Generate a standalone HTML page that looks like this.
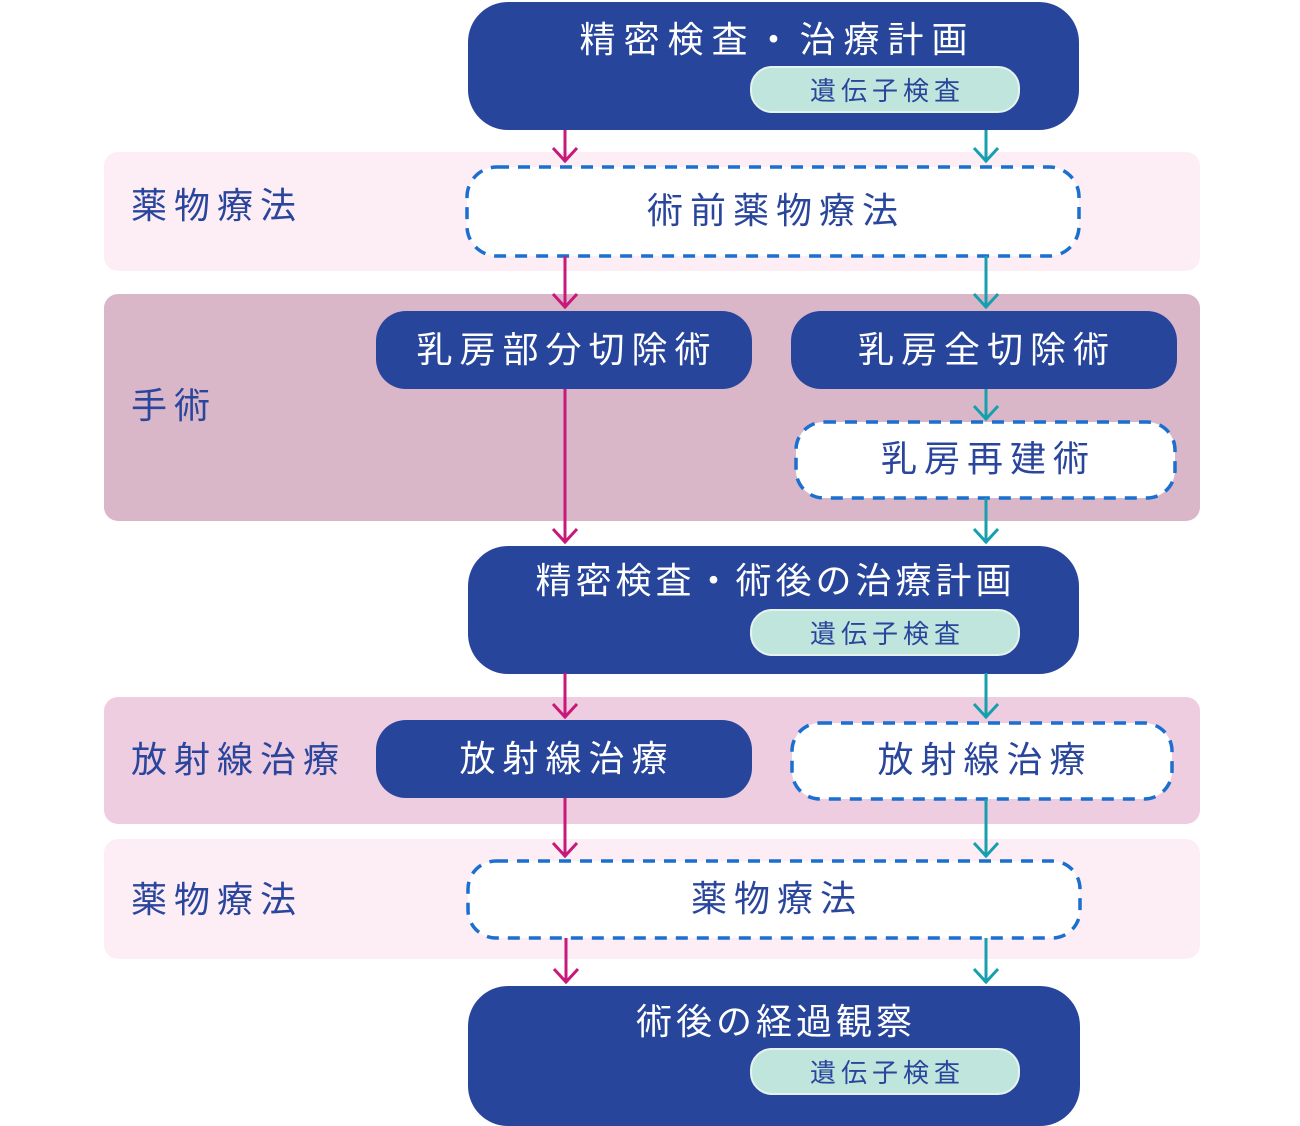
<!DOCTYPE html>
<html><head><meta charset="utf-8"><style>
body{margin:0;width:1300px;height:1115px;background:#fff;position:relative;overflow:hidden;font-family:"Liberation Sans","Noto Sans CJK JP",sans-serif}
.a{position:absolute;box-sizing:border-box}
.band{border-radius:14px}
.lab{position:absolute;color:#2a469c;font-size:36px;letter-spacing:7px;line-height:1}
.nv{background:#28459c;color:#fff;display:flex;align-items:center;justify-content:center;font-size:36px;letter-spacing:7px;padding-bottom:6px;padding-left:6px}
.pill{background:#c0e5dc;border:2px solid #e5f3ef;border-radius:22px;color:#2a469c;font-size:26px;letter-spacing:5px;display:flex;align-items:center;justify-content:center;padding-left:5px}
.ttl{position:absolute;left:0;right:0;text-align:center;color:#fff;font-size:36px;letter-spacing:8px;line-height:1}
.dt{display:flex;align-items:center;justify-content:center;color:#2a469c;font-size:36px;letter-spacing:7px;padding-bottom:8px;padding-left:6px}
</style></head><body>
<div class="a band" style="left:104px;top:152px;width:1096px;height:119px;background:#fdeef6"></div>
<div class="a band" style="left:104px;top:294px;width:1096px;height:227px;background:#d9b7c9"></div>
<div class="a band" style="left:104px;top:697px;width:1096px;height:127px;background:#efcde0"></div>
<div class="a band" style="left:104px;top:839px;width:1096px;height:120px;background:#fdeef6"></div>
<div class="lab" style="left:131px;top:188px">薬物療法</div>
<div class="lab" style="left:131px;top:388px">手術</div>
<div class="lab" style="left:131px;top:742px">放射線治療</div>
<div class="lab" style="left:131px;top:882px">薬物療法</div>

<div class="a" style="left:468px;top:2px;width:611px;height:128px;background:#28459c;border-radius:40px">
<div class="ttl" style="top:20px;padding-left:8px">精密検査・治療計画</div>
<div class="a pill" style="left:282px;top:64px;width:270px;height:47px">遺伝子検査</div></div>

<div class="a" style="left:468px;top:546px;width:611px;height:128px;background:#28459c;border-radius:40px">
<div class="ttl" style="top:17px;padding-left:4px;letter-spacing:4px">精密検査・術後の治療計画</div>
<div class="a pill" style="left:282px;top:63px;width:270px;height:47px">遺伝子検査</div></div>

<div class="a" style="left:468px;top:986px;width:612px;height:140px;background:#28459c;border-radius:40px">
<div class="ttl" style="top:18px;padding-left:4px;letter-spacing:4px">術後の経過観察</div>
<div class="a pill" style="left:282px;top:62px;width:270px;height:47px">遺伝子検査</div></div>

<div class="a nv" style="left:376px;top:311px;width:376px;height:78px;border-radius:30px">乳房部分切除術</div>
<div class="a nv" style="left:791px;top:311px;width:386px;height:78px;border-radius:30px">乳房全切除術</div>
<div class="a nv" style="left:376px;top:720px;width:376px;height:78px;border-radius:30px">放射線治療</div>

<svg class="a" style="left:0;top:0" width="1300" height="1115">
<g fill="#fff" stroke="#1a6fcf" stroke-width="3.5" stroke-dasharray="12 9">
<rect x="467" y="167" width="612" height="89" rx="30"/>
<rect x="796" y="422" width="379" height="76" rx="28"/>
<rect x="792" y="723" width="380" height="76" rx="28"/>
<rect x="468" y="861" width="612" height="77" rx="28"/>
</g>
<g fill="none" stroke-width="3">
<g stroke="#c8187a">
<path d="M565 130V162M553 148L565 161L577 148"/>
<path d="M565 256V308M553 294L565 307L577 294"/>
<path d="M565 389V543M553 529L565 542L577 529"/>
<path d="M565 673V718M553 704L565 717L577 704"/>
<path d="M565 798V857M553 843L565 856L577 843"/>
<path d="M566 938V983M554 969L566 982L578 969"/>
</g>
<g stroke="#16a0ae">
<path d="M986 130V162M974 148L986 161L998 148"/>
<path d="M986 256V308M974 294L986 307L998 294"/>
<path d="M986 389V420M974 406L986 419L998 406"/>
<path d="M986 498V543M974 529L986 542L998 529"/>
<path d="M986 673V718M974 704L986 717L998 704"/>
<path d="M986 799V857M974 843L986 856L998 843"/>
<path d="M986 938V983M974 969L986 982L998 969"/>
</g></g></svg>
<div class="a dt" style="left:467px;top:167px;width:612px;height:89px">術前薬物療法</div>
<div class="a dt" style="left:796px;top:422px;width:379px;height:76px">乳房再建術</div>
<div class="a dt" style="left:792px;top:723px;width:380px;height:76px">放射線治療</div>
<div class="a dt" style="left:468px;top:861px;width:612px;height:77px">薬物療法</div>
</body></html>
